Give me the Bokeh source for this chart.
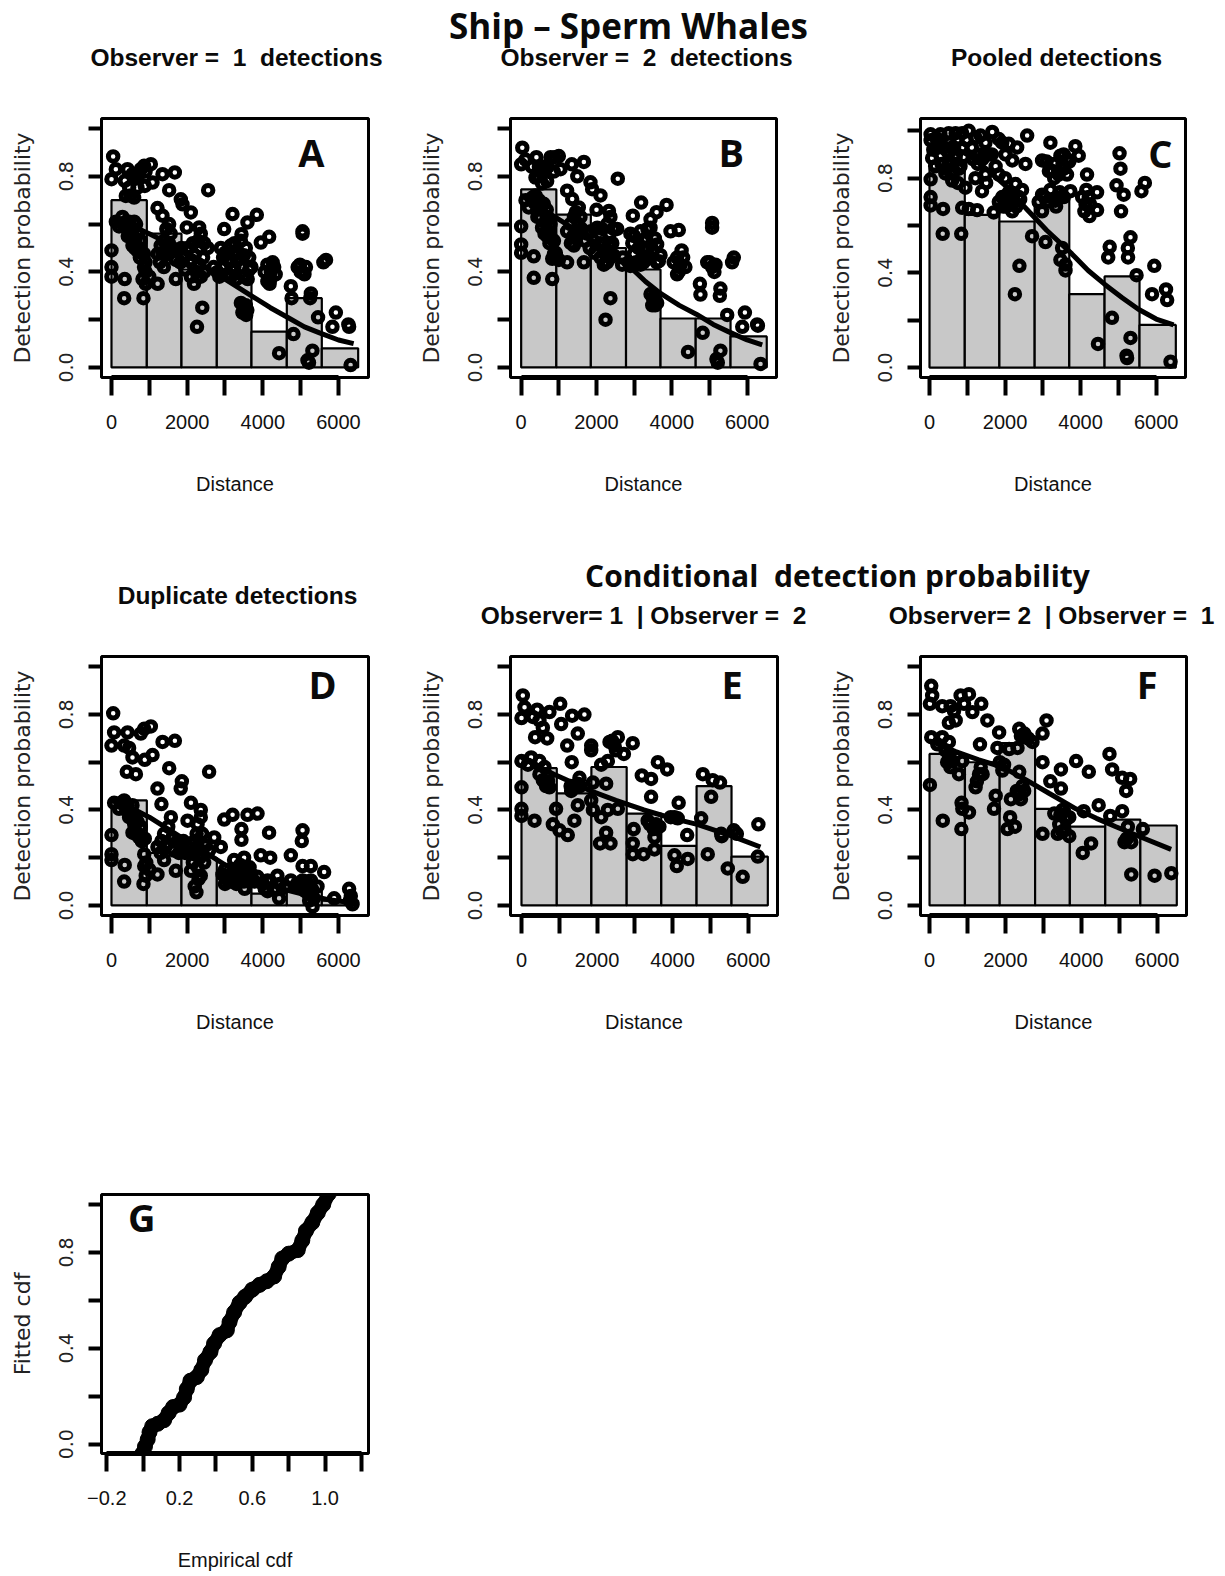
from bokeh.plotting import figure
from bokeh.layouts import column, row
from bokeh.models import Range1d, FixedTicker
from bokeh.core.properties import value
from bokeh.embed import file_html
from bokeh.resources import INLINE

bin_edges = [0, 934, 1850, 2784, 3700, 4634, 5559, 6520]
bars_a = [.70, .56, .41, .37, .15, .29, .08]
bars_b = [.745, .64, .50, .41, .205, .205, .13]
bars_c = [.84, .645, .617, .71, .31, .385, .18]
bars_d = [.44, .22, .20, .14, .05, .06, .02]
bars_e = [.575, .47, .58, .385, .25, .50, .205]
bars_f = [.635, .60, .68, .405, .33, .36, .335]

curve_a = [(0,.62),(500,.595),(1000,.56),(1500,.52),(2000,.47),(2500,.42),(3000,.37),(3700,.30),(4200,.25),(4650,.21),(5100,.17),(5500,.145),(6000,.115),(6400,.10)]
curve_b = [(0,.72),(500,.67),(1000,.62),(1500,.57),(2000,.52),(2500,.46),(2900,.42),(3300,.36),(3700,.31),(4200,.26),(4650,.223),(5100,.18),(5500,.15),(6000,.115),(6400,.095)]
curve_c = [(0,.97),(500,.94),(1000,.90),(1500,.84),(2000,.77),(2450,.69),(3100,.58),(3770,.48),(4200,.41),(4650,.35),(5100,.295),(5530,.246),(6000,.205),(6460,.18)]
curve_d = [(0,.44),(500,.41),(1000,.37),(1500,.32),(2000,.27),(2500,.22),(3000,.17),(3500,.13),(4000,.10),(4500,.07),(5000,.05),(5700,.025),(6400,.01)]
curve_e = [(0,.62),(400,.585),(860,.55),(1830,.48),(2500,.44),(3240,.40),(4000,.365),(4650,.34),(5500,.295),(6325,.245)]
curve_f = [(0,.69),(690,.645),(1300,.61),(1920,.58),(2500,.53),(3150,.47),(3860,.405),(4400,.365),(4915,.33),(5600,.285),(6370,.235)]

pts_a = [(44,.883),(115,.83),(0,.788),(423,.83),(352,.781),(467,.753),(379,.718),(599,.711),(687,.753),(555,.809),(775,.83),(863,.844),(1040,.851),(881,.76),(1084,.774),(1348,.809),(1674,.816),(1524,.742),(1832,.704),(1877,.683),(2555,.742),(1216,.667),(1348,.635),(2097,.649),(1524,.6),(1991,.586),(2317,.586),(3198,.642),(2978,.579),(3594,.607),(3841,.639),(3436,.558),(3947,.523),(4167,.547),
(0,.49),(0,.42),(0,.38),(350,.37),(335,.29),(845,.29),(115,.61),(290,.63),(470,.61),(600,.61),(200,.59),(510,.56),(640,.54),(770,.53),(555,.51),(730,.50),(860,.475),(860,.42),(820,.37),(905,.35),(1220,.35),(1700,.37),(1385,.42),(1220,.475),(1385,.53),(1300,.51),(1480,.49),(1565,.56),(1745,.49),(1920,.46),(2100,.45),(2290,.53),(2360,.56),(2540,.50),(2010,.50),(2320,.43),(2100,.38),(2360,.38),(2180,.35),(2400,.25),(2260,.17),(2800,.40),(2890,.50),(3150,.51),(3420,.53),(3640,.46),(3240,.47),(2980,.42),(3150,.38),(3420,.42),(3640,.41),(3500,.38),(3070,.45),(3420,.27),(3590,.24),(3460,.23),(4120,.43),(4210,.40),(4340,.39),(4120,.36),(4430,.06),(4740,.34),(4760,.29),(5050,.57),(5050,.56),(4920,.42),(5050,.40),(5140,.42),(5270,.31),(5250,.29),(5670,.45),(5600,.44),(4810,.14),(5460,.21),(5930,.23),(5840,.17),(6260,.18),(6280,.17),(5310,.07),(5180,.03),(5220,.02),(6320,.01),
(300,.60),(420,.58),(650,.60),(700,.56),(620,.50),(800,.48),(900,.40),(1450,.58),(1420,.47),(1600,.50),(1850,.50),(2150,.52),(2450,.52),(2250,.40),(2450,.40),(2950,.46),(3250,.42),(3320,.48),(3550,.50),(3300,.37),(3700,.42),(3050,.39),(4200,.37),(4260,.44),(5000,.40),(500,.72),(620,.79),(700,.80),(900,.82),(2350,.50),(3550,.26),
(380,.61),(560,.58),(430,.55),(680,.49),(750,.46),(900,.44),(1000,.38),(1280,.44),(1350,.48),(1520,.52),(1700,.45),(1820,.44),(1950,.41),(2200,.47),(2280,.38),(2420,.46),(2700,.42),(2850,.38),(3000,.48),(3120,.44),(3350,.45),(3500,.47),(3600,.37),(3250,.52),(4050,.40),(4300,.42),(4180,.35),(3470,.26),(3560,.22),(5100,.39),(4980,.43)]

pts_b = [(30,.92),(0,.85),(115,.87),(405,.88),(290,.84),(470,.84),(380,.795),(555,.77),(690,.78),(645,.83),(780,.88),(1000,.885),(865,.82),(1045,.83),(1345,.85),(1665,.86),(1490,.80),(1840,.775),(1885,.746),(2565,.79),(1220,.74),(1355,.705),(2105,.72),(1530,.67),(2000,.66),(2330,.655),(3185,.69),(2965,.635),(3595,.65),(3860,.68),(3435,.62),(3965,.57),(4185,.575),
(0,.59),(0,.515),(0,.48),(335,.465),(335,.375),(825,.37),(115,.70),(290,.71),(470,.70),(600,.685),(200,.67),(510,.63),(645,.605),(780,.60),(555,.585),(735,.57),(870,.53),(870,.475),(825,.455),(1000,.45),(1220,.44),(1665,.44),(1400,.51),(1220,.57),(1400,.63),(1310,.60),(1490,.57),(1575,.63),(1750,.56),(1930,.53),(2105,.52),(2285,.60),(2370,.63),(2550,.58),(2020,.585),(2330,.515),(2105,.46),(2370,.46),(2195,.43),(2370,.29),(2240,.20),(2680,.43),(2900,.56),(3170,.57),(3435,.585),(3610,.515),(3255,.495),(2990,.475),(3170,.43),(3435,.46),(3655,.445),(2900,.425),(3435,.307),(3610,.27),(3480,.26),(4140,.46),(4230,.43),(4360,.42),(4140,.39),(4430,.065),(4745,.35),(4760,.305),(5070,.605),(5070,.585),(4940,.44),(5070,.42),(5160,.43),(5290,.33),(5275,.30),(5645,.46),(5600,.44),(4820,.145),(5470,.22),(5940,.23),(5870,.17),(6265,.18),(6285,.175),(5290,.07),(5185,.035),(5220,.02),(6355,.015),
(350,.69),(430,.66),(680,.66),(720,.62),(620,.56),(800,.54),(920,.48),(500,.82),(600,.84),(880,.88),(450,.80),(700,.84),(1450,.65),(1450,.54),(1600,.58),(1850,.57),(2150,.58),(2450,.58),(2250,.47),(2450,.47),(2950,.52),(3250,.53),(3320,.54),(3550,.54),(3300,.45),(3700,.47),(3050,.44),(4200,.42),(4260,.49),(5000,.44),(2350,.56),(3550,.30),(3350,.58),
(380,.72),(540,.67),(430,.63),(690,.55),(750,.52),(930,.46),(1320,.52),(1380,.55),(1520,.60),(1700,.53),(1820,.50),(1950,.48),(2200,.52),(2280,.44),(2420,.52),(2700,.46),(2850,.44),(3000,.55),(3120,.50),(3350,.50),(3500,.49),(3600,.44),(3250,.44),(4050,.44),(4300,.46),(4180,.40),(3500,.29),(3560,.26),(5130,.40)]

pts_c = [(30,.985),(30,.96),(290,.985),(510,.99),(690,.99),(865,.99),(1040,1.0),(1350,.98),(1660,.995),(1835,.965),(1925,.95),(2585,.98),(2100,.945),(2320,.93),(2010,.90),(3200,.95),(3860,.935),(3950,.895),(2980,.875),(3465,.895),(3640,.88),(4170,.815),
(70,.885),(290,.895),(510,.875),(645,.83),(470,.915),(865,.93),(30,.795),(30,.72),(30,.685),(360,.67),(350,.565),(840,.565),(865,.675),(1040,.67),(1260,.665),(1700,.655),(950,.76),(1390,.745),(1215,.80),(1480,.815),(1305,.90),(1570,.90),(1835,.815),(2190,.875),(2540,.86),(2275,.775),(1925,.72),(2100,.69),(2365,.72),(1835,.70),(2190,.66),(2715,.555),(3070,.53),(2380,.43),(2260,.31),(2980,.73),(2890,.70),(2980,.66),(3330,.705),(3555,.72),(3730,.745),(3160,.83),(3420,.815),(3640,.815),(3510,.505),(3465,.455),(3600,.435),(3600,.41),(4040,.72),(4215,.72),(4435,.74),(4435,.665),(4235,.64),(4130,.69),(4460,.10),(4770,.51),(4730,.465),(4830,.21),(5030,.905),(5055,.84),(4950,.77),(5140,.73),(5070,.66),(5320,.55),(5250,.505),(5255,.465),(5480,.39),(5320,.125),(5215,.05),(5230,.04),(5700,.78),(5610,.745),(5950,.43),(5890,.31),(6260,.33),(6290,.285),(6380,.025),
(160,.93),(380,.93),(600,.93),(690,.885),(600,.79),(780,.84),(420,.82),(560,.86),(740,.96),(180,.97),(1120,.93),(1480,.95),(3300,.86),(3560,.84),
(150,.85),(450,.84),(650,.93),(900,.89),(750,.78),(1150,.88),(1400,.88),(1650,.90),(1750,.85),(1500,.78),(2000,.80),(2050,.72),(2250,.70),(2450,.75),(2200,.73),(1950,.68),(3100,.70),(3200,.75),(3450,.74),(3300,.80),(3100,.87),(3550,.90),(4100,.66),(4250,.69),(4150,.75),(3350,.68),
(100,.92),(250,.93),(320,.86),(530,.95),(700,.90),(820,.85),(580,.82),(980,.96),(1220,.97),(1450,.90),(1280,.86),(2100,.74),(2300,.68),(2400,.71),(2030,.68),(3050,.72),(3480,.72),(3250,.83),(3520,.86),(3700,.87)]

pts_d = [(45,.805),(70,.725),(0,.67),(425,.725),(335,.67),(465,.66),(555,.62),(775,.72),(865,.74),(1040,.75),(880,.61),(1085,.63),(1350,.685),(1675,.69),(1525,.575),(1860,.52),(1830,.49),(2580,.56),(405,.56),(645,.55),(1215,.49),(1320,.425),(2100,.43),(2360,.40),(3200,.38),(2980,.36),(3595,.38),(3860,.385),(3435,.32),(3435,.275),(4165,.305),(3945,.21),(4195,.20),(4740,.21),(5050,.315),(5030,.27),
(0,.295),(0,.215),(0,.19),(350,.17),(335,.10),(845,.09),(70,.43),(335,.44),(555,.42),(200,.405),(465,.37),(600,.34),(775,.33),(555,.305),(730,.285),(865,.215),(865,.165),(905,.125),(1215,.13),(1700,.145),(1390,.19),(1215,.245),(1390,.30),(1570,.37),(1480,.26),(1745,.27),(1920,.23),(2100,.26),(2275,.34),(2360,.37),(2010,.355),(2185,.215),(2100,.145),(2360,.125),(2245,.055),(2715,.285),(2580,.23),(2890,.245),(2935,.13),(3155,.13),(3420,.105),(3595,.145),(3240,.19),(3505,.20),(3640,.105),(3860,.12),(4125,.105),(4125,.06),(4385,.125),(4430,.03),(4740,.105),(5050,.105),(5050,.165),(5270,.165),(5270,.105),(5445,.08),(5225,.02),(5315,-.005),(5620,.14),(5885,.03),(6280,.07),(6325,.04),(6370,.005),
(250,.43),(430,.42),(640,.37),(700,.30),(800,.27),(640,.30),(1300,.22),(1500,.33),(1650,.23),(1850,.26),(1950,.22),(2200,.27),(2400,.30),(2300,.24),(2150,.18),(2450,.18),(3000,.15),(3100,.10),(3300,.15),(3500,.10),(3400,.17),(3650,.16),(3300,.09),(3700,.13),(3000,.09),(4000,.09),(4300,.07),(4600,.08),(4900,.09),(5150,.10),(5200,.05),(5350,.03),(6300,.02),(2300,.11),(2200,.08),
(390,.40),(520,.37),(690,.35),(880,.28),(920,.18),(1000,.15),(1320,.27),(1430,.25),(1600,.28),(1780,.22),(1900,.27),(2070,.22),(2250,.30),(2330,.20),(2480,.25),(2280,.16),(3050,.12),(3200,.10),(3350,.12),(3450,.15),(3580,.12),(3520,.07),(3780,.10),(4050,.07),(4200,.10),(4450,.09),(5000,.08),(5120,.06),(5300,.07)]

pts_e = [(35,.88),(80,.83),(0,.785),(415,.82),(300,.79),(475,.775),(565,.745),(360,.705),(680,.70),(740,.81),(1025,.845),(1050,.76),(1340,.795),(1665,.80),(1490,.72),(1210,.67),(1330,.60),(1845,.67),(1845,.65),(2110,.59),(2285,.605),(2330,.685),(2550,.705),(2460,.67),(2945,.68),(2710,.635),(3185,.545),(3430,.53),(3610,.60),(3855,.57),(3430,.455),
(0,.605),(255,.62),(475,.605),(170,.59),(610,.58),(475,.55),(695,.54),(565,.525),(740,.495),(0,.495),(0,.405),(0,.375),(345,.355),(915,.405),(830,.34),(1005,.315),(1225,.295),(1400,.355),(1490,.42),(1315,.48),(1535,.535),(1490,.51),(1890,.515),(2240,.51),(1845,.44),(1890,.40),(2110,.37),(2285,.40),(2550,.405),(2080,.26),(2240,.305),(2355,.26),(2970,.32),(2945,.26),(2945,.215),(3230,.215),(3520,.235),(3520,.285),(3340,.355),(3560,.34),(3650,.33),(4050,.37),(4160,.43),(4135,.365),(4385,.295),(4400,.195),(4050,.21),(4110,.165),(4800,.55),(5060,.525),(5255,.515),(5020,.455),(4755,.365),(5285,.30),(4930,.215),(5460,.155),(5620,.315),(5855,.12),(6270,.34),(6255,.205),
(600,.52),(650,.50),(700,.52),(1400,.50),(1550,.50),(1300,.50),(3400,.34),(3500,.32),(3950,.37),(5300,.29),(5700,.30),(2400,.69),(2500,.65)]

pts_f = [(45,.92),(70,.88),(10,.845),(335,.835),(555,.835),(510,.765),(690,.775),(645,.815),(820,.88),(1040,.885),(910,.845),(1130,.81),(1365,.845),(1525,.775),(1330,.675),(1835,.725),(1790,.66),(2365,.74),(2410,.71),(2100,.655),(2320,.66),(2715,.685),(3085,.775),(2980,.72),(2980,.60),
(45,.705),(335,.705),(205,.675),(510,.685),(510,.635),(600,.605),(865,.605),(465,.60),(775,.55),(10,.505),(350,.355),(840,.32),(845,.43),(865,.405),(1040,.39),(1215,.495),(1305,.55),(1350,.58),(1745,.46),(1700,.405),(1965,.59),(1920,.565),(2365,.56),(2145,.445),(2125,.37),(2055,.32),(2250,.33),(2365,.465),(2495,.48),(2410,.445),(2980,.30),(3185,.52),(3465,.57),(3465,.49),(3290,.385),(3510,.40),(3685,.37),(3420,.34),(3555,.315),(3685,.29),(3380,.30),(3865,.605),(4200,.56),(4065,.395),(4460,.42),(4040,.22),(4260,.26),(4745,.635),(4815,.57),(5080,.535),(5290,.53),(5185,.48),(4765,.375),(5080,.395),(5230,.33),(5140,.265),(5320,.265),(5320,.13),(5625,.32),(5935,.125),(6375,.135),
(500,.60),(420,.65),(550,.58),(1250,.52),(1400,.55),(1850,.60),(2450,.50),(2300,.48),(3450,.38),(3600,.36),(3500,.31),(5200,.28),(2600,.70),(2500,.72)]

pts_g = [(-.005,-.04),(.01,-.01),(.025,.02),(.035,.05),(.05,.075),(.08,.085),(.115,.10),(.14,.13),(.165,.155),(.20,.165),(.225,.195),(.24,.23),(.26,.265),(.295,.28),(.32,.31),(.34,.35),(.37,.385),(.39,.42),(.42,.455),(.46,.475),(.475,.51),(.50,.55),(.53,.59),(.56,.615),(.60,.645),(.64,.665),(.68,.68),(.72,.70),(.745,.74),(.765,.775),(.80,.795),(.85,.81),(.875,.85),(.895,.89),(.93,.925),(.96,.965),(.99,1.0),(1.02,1.045)]

dist_ticks = [0, 1000, 2000, 3000, 4000, 5000, 6000]
dist_labels = {0: "0", 1000: "", 2000: "2000", 3000: "", 4000: "4000", 5000: "", 6000: "6000"}
prob_ticks = [0, .2, .4, .6, .8, 1.0]
prob_labels = {0: "0.0", .2: "", .4: "0.4", .6: "", .8: "0.8", 1.0: ""}
cdf_ticks = [-.2, 0, .2, .4, .6, .8, 1.0, 1.2]
cdf_labels = {-.2: "\u22120.2", 0: "", .2: "0.2", .4: "", .6: "0.6", .8: "", 1.0: "1.0", 1.2: ""}

SANS = "Liberation Sans"
AXIS_FONT = "DejaVu Sans"
HEAD_FONT = "Open Sans"

def panel(w, h, l, r, t, b, xr, yr, xt, xl, yt, yl, xlabel, ylabel, letter, lx, ly):
    p = figure(width=w, height=h, min_border_left=l, min_border_right=r, min_border_top=t,
               min_border_bottom=b, x_range=Range1d(*xr), y_range=Range1d(*yr), frame_align=False,
               output_backend="svg", toolbar_location=None, background_fill_color="white")
    p.grid.visible = False
    p.outline_line_color = "black"
    p.outline_line_width = 3
    xa, ya = p.xaxis[0], p.yaxis[0]
    xa.ticker = FixedTicker(ticks=xt)
    xa.major_label_overrides = xl
    xa.bounds = (xt[0], xt[-1])
    xa.axis_line_width = 5
    xa.major_tick_out = 18
    xa.major_tick_in = 0
    xa.minor_tick_line_color = None
    xa.major_tick_line_width = 4
    xa.major_label_text_font = SANS
    xa.major_label_text_font_size = "20px"
    xa.major_label_text_color = "#111111"
    xa.major_label_standoff = 19
    xa.axis_label = xlabel
    xa.axis_label_text_font = SANS
    xa.axis_label_text_font_size = "20px"
    xa.axis_label_text_font_style = "normal"
    xa.axis_label_text_color = "#111111"
    xa.axis_label_standoff = 41
    ya.ticker = FixedTicker(ticks=yt)
    ya.major_label_overrides = yl
    ya.bounds = (yt[0], yt[-1])
    ya.axis_line_width = 3
    ya.major_tick_out = 13
    ya.major_tick_in = 0
    ya.minor_tick_line_color = None
    ya.major_tick_line_width = 4
    ya.major_label_orientation = "vertical"
    ya.major_label_text_font = AXIS_FONT
    ya.major_label_text_font_size = "19px"
    ya.major_label_text_color = "#222222"
    ya.major_label_standoff = 15
    ya.axis_label = ylabel
    ya.axis_label_text_font = AXIS_FONT
    ya.axis_label_text_font_size = "22px"
    ya.axis_label_text_font_style = "normal"
    ya.axis_label_text_color = "#222222"
    ya.axis_label_standoff = 22
    p.text([lx], [ly], text=[letter], text_font=value(HEAD_FONT), text_font_style="bold",
           text_font_size="38px", text_align="center", text_baseline="middle", text_color="#0a0a0a")
    return p

def detection(w, h, l, r, t, b, xr, yr, bars, curve, pts, letter, lx, ly):
    p = panel(w, h, l, r, t, b, xr, yr, dist_ticks, dist_labels, prob_ticks, prob_labels,
              "Distance", "Detection probability", letter, lx, ly)
    p.quad(left=bin_edges[:-1], right=bin_edges[1:], bottom=0, top=bars,
           fill_color="#c8c8c8", line_color="black", line_width=2.2)
    p.line([c[0] for c in curve], [c[1] for c in curve], line_color="black", line_width=5)
    p.scatter([q[0] for q in pts], [q[1] for q in pts], marker="circle", size=9.5,
              fill_alpha=0, line_color="black", line_width=5)
    p.renderers = p.renderers[1:] + p.renderers[:1]
    return p

def strip(w, h, items):
    p = figure(width=w, height=h, x_range=Range1d(0, w), y_range=Range1d(h, 0),
               x_axis_location=None, y_axis_location=None, frame_align=False,
               min_border=0, min_border_left=0, min_border_right=0, min_border_top=0, min_border_bottom=0,
               output_backend="svg", toolbar_location=None, outline_line_color=None)
    p.grid.visible = False
    for txt, x, y, font, size in items:
        p.text([x], [y], text=[txt], text_font=value(font), text_font_style="bold",
               text_font_size=size, text_align="center", text_baseline="middle", text_color="#0a0a0a")
    return p

SUB = "24.5px"
strip_top = strip(1225, 100, [
    ("Ship \u2013 Sperm Whales", 628, 25, HEAD_FONT, "35px"),
    ("Observer =\u00a0 1\u00a0 detections", 236, 57, SANS, SUB),
    ("Observer =\u00a0 2\u00a0 detections", 646, 57, SANS, SUB),
    ("Pooled detections", 1056, 57, SANS, SUB),
])
strip_mid = strip(1225, 95, [
    ("Conditional\u00a0 detection probability", 837, 30, HEAD_FONT, "30px"),
    ("Duplicate detections", 237, 50, SANS, SUB),
    ("Observer= 1\u00a0 | Observer =\u00a0 2", 643, 70, SANS, SUB),
    ("Observer= 2\u00a0 | Observer =\u00a0 1", 1051, 70, SANS, SUB),
])

a = detection(415, 445, 101, 47, 18, 168, (-264, 6793), (-.042, 1.042), bars_a, curve_a, pts_a, "A", 5286, .90)
b = detection(410, 445, 95, 49, 18, 168, (-283, 6779), (-.042, 1.042), bars_b, curve_b, pts_b, "B", 5575, .90)
c = detection(400, 445, 95, 40, 18, 168, (-238, 6776), (-.042, 1.052), bars_c, curve_c, pts_c, "C", 6112, .905)
d = detection(415, 445, 101, 47, 16, 170, (-264, 6793), (-.042, 1.043), bars_d, curve_d, pts_d, "D", 5577, .926)
e = detection(410, 445, 94, 48, 16, 170, (-291, 6776), (-.042, 1.043), bars_e, curve_e, pts_e, "E", 5574, .926)
f = detection(400, 445, 95, 39, 16, 170, (-238, 6776), (-.042, 1.043), bars_f, curve_f, pts_f, "F", 5742, .926)

g = panel(415, 490, 101, 47, 109, 122, (-.229, 1.239), (-.039, 1.042), cdf_ticks, cdf_labels,
          prob_ticks, prob_labels, "Empirical cdf", "Fitted cdf", "G", -.007, .95)
g.line([q[0] for q in pts_g], [q[1] for q in pts_g], line_color="black", line_width=14,
       line_join="round", line_cap="round")
g.scatter([q[0] for q in pts_g], [q[1] for q in pts_g], marker="circle", size=15, color="black")

layout = column(strip_top, row(a, b, c, spacing=0), strip_mid, row(d, e, f, spacing=0), g, spacing=0)
open("out.html", "w").write(file_html(layout, INLINE))
